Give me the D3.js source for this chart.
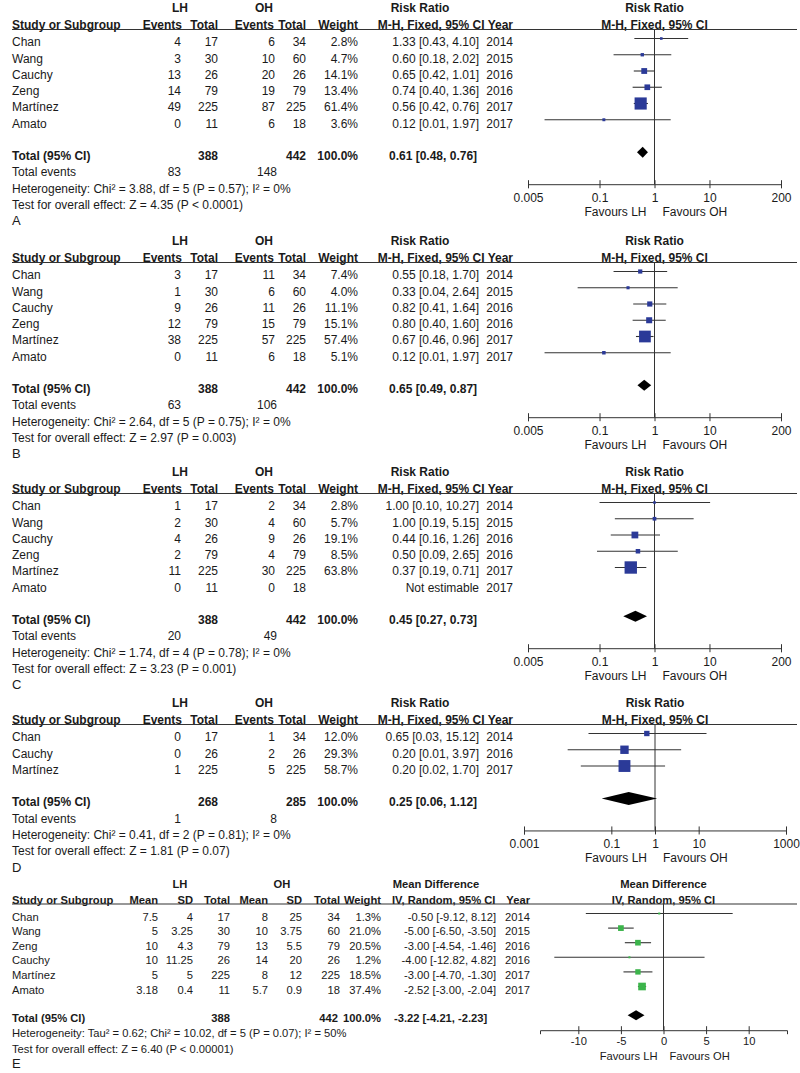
<!DOCTYPE html>
<html><head><meta charset="utf-8">
<script src="https://cdn.jsdelivr.net/npm/d3@7"></script>
<style>
body{margin:0;background:#fff}
svg{display:block}
text{font-family:"Liberation Sans",Arial,sans-serif;fill:#1a1a1a}
</style>
</head><body>
<svg id="c" width="800" height="1073"></svg>
<script>
// ---------- DATA ----------
// Panel A
const studiesA = ["Chan","Wang","Cauchy","Zeng","Martínez","Amato"];
const yearsA   = [2014,2015,2016,2016,2017,2017];
const evLH_A = [4,3,13,14,49,0];
const nLH_A  = [17,30,26,79,225,11];
const evOH_A = [6,10,20,19,87,6];
const nOH_A  = [34,60,26,79,225,18];
const wA     = [2.8,4.7,14.1,13.4,61.4,3.6];
const rrA    = [1.33,0.60,0.65,0.74,0.56,0.12];
const loA    = [0.43,0.18,0.42,0.40,0.42,0.01];
const hiA    = [4.10,2.02,1.01,1.36,0.76,1.97];
const totA   = [0.61,0.48,0.76];
const hetA   = "Heterogeneity: Chi² = 3.88, df = 5 (P = 0.57); I² = 0%";
const testA  = "Test for overall effect: Z = 4.35 (P < 0.0001)";
// Panel B
const evLH_B = [3,1,9,12,38,0];
const evOH_B = [11,6,11,15,57,6];
const wB     = [7.4,4.0,11.1,15.1,57.4,5.1];
const rrB    = [0.55,0.33,0.82,0.80,0.67,0.12];
const loB    = [0.18,0.04,0.41,0.40,0.46,0.01];
const hiB    = [1.70,2.64,1.64,1.60,0.96,1.97];
const totB   = [0.65,0.49,0.87];
const hetB   = "Heterogeneity: Chi² = 2.64, df = 5 (P = 0.75); I² = 0%";
const testB  = "Test for overall effect: Z = 2.97 (P = 0.003)";
// Panel C
const evLH_C = [1,2,4,2,11,0];
const evOH_C = [2,4,9,4,30,0];
const wC     = [2.8,5.7,19.1,8.5,63.8,null];
const rrC    = [1.00,1.00,0.44,0.50,0.37,null];
const loC    = [0.10,0.19,0.16,0.09,0.19,null];
const hiC    = [10.27,5.15,1.26,2.65,0.71,null];
const totC   = [0.45,0.27,0.73];
const hetC   = "Heterogeneity: Chi² = 1.74, df = 4 (P = 0.78); I² = 0%";
const testC  = "Test for overall effect: Z = 3.23 (P = 0.001)";
// Panel D
const studiesD = ["Chan","Cauchy","Martínez"];
const yearsD   = [2014,2016,2017];
const evLH_D = [0,0,1];
const nLH_D  = [17,26,225];
const evOH_D = [1,2,5];
const nOH_D  = [34,26,225];
const wD     = [12.0,29.3,58.7];
const rrD    = [0.65,0.20,0.20];
const loD    = [0.03,0.01,0.02];
const hiD    = [15.12,3.97,1.70];
const totD   = [0.25,0.06,1.12];
const hetD   = "Heterogeneity: Chi² = 0.41, df = 2 (P = 0.81); I² = 0%";
const testD  = "Test for overall effect: Z = 1.81 (P = 0.07)";
// Tick labels
const ticksABC = [0.005,0.1,1,10,200];
const ticksD   = [0.001,0.1,1,10,1000];
const ticksE   = [-10,-5,0,5,10];
// Panel E
const studiesE = ["Chan","Wang","Zeng","Cauchy","Martínez","Amato"];
const yearsE   = [2014,2015,2016,2016,2017,2017];
const meanLH_E = [7.5,5,10,10,5,3.18];
const sdLH_E   = [4,3.25,4.3,11.25,5,0.4];
const nLH_E    = [17,30,79,26,225,11];
const meanOH_E = [8,10,13,14,8,5.7];
const sdOH_E   = [25,3.75,5.5,20,12,0.9];
const nOH_E    = [34,60,79,26,225,18];
const wE       = [1.3,21.0,20.5,1.2,18.5,37.4];
const mdE      = [-0.50,-5.00,-3.00,-4.00,-3.00,-2.52];
const loE      = [-9.12,-6.50,-4.54,-12.82,-4.70,-3.00];
const hiE      = [8.12,-3.50,-1.46,4.82,-1.30,-2.04];
const totE     = [-3.22,-4.21,-2.23];
const hetE     = "Heterogeneity: Tau² = 0.62; Chi² = 10.02, df = 5 (P = 0.07); I² = 50%";
const testE    = "Test for overall effect: Z = 6.40 (P < 0.00001)";

// ---------- DRAWING ----------
const svg = d3.select("#c");
const BLUE = "#2b3a98", GREEN = "#3cb44b", LINE = "#333";
let FS = 12;

function txt(g, x, y, s, anchor, bold, size) {
  const t = g.append("text").attr("x", x).attr("y", y).attr("dy", "0.36em")
    .attr("text-anchor", anchor || "start").style("font-size", (size || FS) + "px").text(s);
  if (bold) t.attr("font-weight", "bold");
  return t;
}
const f2 = v => v.toFixed(2);

function axisAt(g, scale, ticks, y, labelOff) {
  const ax = g.append("g").attr("transform", `translate(0,${y})`)
    .call(d3.axisBottom(scale).tickValues(ticks).tickFormat(d => String(d)).tickSizeOuter(0).tickSize(4));
  ax.select(".domain").attr("stroke", LINE);
  ax.selectAll(".tick line").attr("y1", -4).attr("y2", 4).attr("stroke", LINE);
  ax.selectAll(".tick text").attr("y", labelOff).attr("dy", "0.36em")
    .style("font-family", '"Liberation Sans",Arial,sans-serif').style("font-size", FS + "px").attr("fill", "#1a1a1a");
}

function rrPanel(p) {
  FS = 12;
  const g = svg.append("g");
  const T = p.top, r0 = T + 34, dy = 16.25, n = p.studies.length;
  const rowY = i => r0 + i * dy;
  const x = d3.scaleLog().domain(p.domain).range(p.range);
  // group headers
  txt(g, 180, T, "LH", "middle", true);
  txt(g, 264, T, "OH", "middle", true);
  txt(g, 420, T, "Risk Ratio", "middle", true);
  txt(g, x(1), T, "Risk Ratio", "middle", true);
  const hy = T + 16.5;
  txt(g, 12, hy, "Study or Subgroup", "start", true);
  txt(g, 182, hy, "Events", "end", true);
  txt(g, 218, hy, "Total", "end", true);
  txt(g, 274, hy, "Events", "end", true);
  txt(g, 306, hy, "Total", "end", true);
  txt(g, 358, hy, "Weight", "end", true);
  txt(g, 513, hy, "M-H, Fixed, 95% CI Year", "end", true);
  txt(g, x(1), hy, "M-H, Fixed, 95% CI", "middle", true);
  const ly = T + 21.5;
  g.append("line").attr("x1", 12).attr("x2", 797).attr("y1", ly).attr("y2", ly).attr("stroke", LINE).attr("stroke-width", 1.2);
  // rows
  p.studies.forEach((s, i) => {
    const y = rowY(i);
    txt(g, 12, y, s);
    txt(g, 181, y, p.evLH[i], "end");
    txt(g, 218, y, p.nLH[i], "end");
    txt(g, 275, y, p.evOH[i], "end");
    txt(g, 306, y, p.nOH[i], "end");
    txt(g, 358, y, p.w[i] == null ? "" : p.w[i].toFixed(1) + "%", "end");
    txt(g, 479, y, p.rr[i] == null ? "Not estimable" : `${f2(p.rr[i])} [${f2(p.lo[i])}, ${f2(p.hi[i])}]`, "end");
    txt(g, 513, y, p.years[i], "end");
  });
  const yt = rowY(n + 1);
  txt(g, 12, yt, "Total (95% CI)", "start", true);
  txt(g, 218, yt, d3.sum(p.nLH), "end", true);
  txt(g, 306, yt, d3.sum(p.nOH), "end", true);
  txt(g, 358, yt, "100.0%", "end", true);
  txt(g, 389, yt, `${f2(p.tot[0])} [${f2(p.tot[1])}, ${f2(p.tot[2])}]`, "start", true);
  txt(g, 12, rowY(n + 2), "Total events");
  txt(g, 181, rowY(n + 2), d3.sum(p.evLH), "end");
  txt(g, 277, rowY(n + 2), d3.sum(p.evOH), "end");
  txt(g, 12, rowY(n + 3), p.het);
  txt(g, 12, rowY(n + 4), p.test);
  txt(g, 12, rowY(n + 5), p.label, "start", false, 13);
  // plot
  const axY = r0 + (n + 2.75) * dy;
  g.append("line").attr("x1", x(1)).attr("x2", x(1)).attr("y1", ly).attr("y2", axY).attr("stroke", LINE);
  p.studies.forEach((s, i) => {
    if (p.rr[i] == null) return;
    const y = rowY(i) - 3.5;
    g.append("line").attr("x1", x(p.lo[i])).attr("x2", x(p.hi[i])).attr("y1", y).attr("y2", y).attr("stroke", LINE).attr("stroke-width", 1.1);
    const sz = Math.max(2.5, 1.55 * Math.sqrt(p.w[i]));
    g.append("rect").attr("x", x(p.rr[i]) - sz / 2).attr("y", y - sz / 2).attr("width", sz).attr("height", sz).attr("fill", BLUE);
  });
  const yd = yt - 3.5, h = p.dh;
  g.append("polygon").attr("points", [[x(p.tot[1]), yd], [x(p.tot[0]), yd - h], [x(p.tot[2]), yd], [x(p.tot[0]), yd + h]].map(d => d.join(",")).join(" ")).attr("fill", "#000");
  axisAt(g, x, p.ticks, axY, 13);
  txt(g, x(1) - 8, axY + 27, "Favours LH", "end");
  txt(g, x(1) + 8, axY + 27, "Favours OH", "start");
}

rrPanel({top: 8, label: "A", studies: studiesA, years: yearsA, evLH: evLH_A, nLH: nLH_A, evOH: evOH_A, nOH: nOH_A,
  w: wA, rr: rrA, lo: loA, hi: hiA, tot: totA, het: hetA, test: testA, domain: [0.005, 200], range: [528, 781], ticks: ticksABC, dh: 5.5});
rrPanel({top: 241, label: "B", studies: studiesA, years: yearsA, evLH: evLH_B, nLH: nLH_A, evOH: evOH_B, nOH: nOH_A,
  w: wB, rr: rrB, lo: loB, hi: hiB, tot: totB, het: hetB, test: testB, domain: [0.005, 200], range: [528, 781], ticks: ticksABC, dh: 5.5});
rrPanel({top: 472, label: "C", studies: studiesA, years: yearsA, evLH: evLH_C, nLH: nLH_A, evOH: evOH_C, nOH: nOH_A,
  w: wC, rr: rrC, lo: loC, hi: hiC, tot: totC, het: hetC, test: testC, domain: [0.005, 200], range: [528, 781], ticks: ticksABC, dh: 5.5});
rrPanel({top: 703, label: "D", studies: studiesD, years: yearsD, evLH: evLH_D, nLH: nLH_D, evOH: evOH_D, nOH: nOH_D,
  w: wD, rr: rrD, lo: loD, hi: hiD, tot: totD, het: hetD, test: testD, domain: [0.001, 1000], range: [524, 786], ticks: ticksD, dh: 6.5});

// Panel E
(function () {
  FS = 11.2;
  const g = svg.append("g");
  const T = 884, r0 = T + 32.5, dy = 14.6, n = studiesE.length;
  const rowY = i => r0 + i * dy;
  const x = d3.scaleLinear().domain([-14.5, 14.5]).range([540, 787]);
  txt(g, 180, T, "LH", "middle", true);
  txt(g, 282, T, "OH", "middle", true);
  txt(g, 436, T, "Mean Difference", "middle", true);
  txt(g, x(0), T, "Mean Difference", "middle", true);
  const hy = T + 15.5;
  txt(g, 12, hy, "Study or Subgroup", "start", true);
  txt(g, 158, hy, "Mean", "end", true);
  txt(g, 193, hy, "SD", "end", true);
  txt(g, 230, hy, "Total", "end", true);
  txt(g, 268, hy, "Mean", "end", true);
  txt(g, 302, hy, "SD", "end", true);
  txt(g, 340, hy, "Total", "end", true);
  txt(g, 381, hy, "Weight", "end", true);
  txt(g, 392, hy, "IV, Random, 95% CI", "start", true);
  txt(g, 530, hy, "Year", "end", true);
  txt(g, x(0), hy, "IV, Random, 95% CI", "middle", true);
  const ly = T + 20;
  g.append("line").attr("x1", 12).attr("x2", 797).attr("y1", ly).attr("y2", ly).attr("stroke", LINE).attr("stroke-width", 1.2);
  studiesE.forEach((s, i) => {
    const y = rowY(i);
    txt(g, 12, y, s);
    txt(g, 158, y, meanLH_E[i], "end");
    txt(g, 193, y, sdLH_E[i], "end");
    txt(g, 230, y, nLH_E[i], "end");
    txt(g, 268, y, meanOH_E[i], "end");
    txt(g, 302, y, sdOH_E[i], "end");
    txt(g, 340, y, nOH_E[i], "end");
    txt(g, 381, y, wE[i].toFixed(1) + "%", "end");
    txt(g, 496, y, `${f2(mdE[i])} [${f2(loE[i])}, ${f2(hiE[i])}]`, "end");
    txt(g, 530, y, yearsE[i], "end");
  });
  const yt = rowY(n + 1) - 0.5;
  txt(g, 12, yt, "Total (95% CI)", "start", true);
  txt(g, 230, yt, d3.sum(nLH_E), "end", true);
  txt(g, 338, yt, d3.sum(nOH_E), "end", true);
  txt(g, 381, yt, "100.0%", "end", true);
  txt(g, 394, yt, `${f2(totE[0])} [${f2(totE[1])}, ${f2(totE[2])}]`, "start", true);
  txt(g, 12, yt + 15, hetE);
  txt(g, 12, yt + 30.5, testE);
  txt(g, 12, yt + 45.5, "E", "start", false, 13);
  const axY = yt + 12;
  g.append("line").attr("x1", x(0)).attr("x2", x(0)).attr("y1", ly).attr("y2", axY).attr("stroke", LINE);
  studiesE.forEach((s, i) => {
    const y = rowY(i) - 3;
    g.append("line").attr("x1", x(loE[i])).attr("x2", x(hiE[i])).attr("y1", y).attr("y2", y).attr("stroke", LINE).attr("stroke-width", 1.1);
    const sz = Math.max(2, 1.25 * Math.sqrt(wE[i]));
    g.append("rect").attr("x", x(mdE[i]) - sz / 2).attr("y", y - sz / 2).attr("width", sz).attr("height", sz).attr("fill", GREEN);
  });
  const yd = yt - 3, h = 5;
  g.append("polygon").attr("points", [[x(totE[1]), yd], [x(totE[0]), yd - h], [x(totE[2]), yd], [x(totE[0]), yd + h]].map(d => d.join(",")).join(" ")).attr("fill", "#000");
  axisAt(g, x, ticksE, axY, 11);
  txt(g, x(0) - 6, axY + 26, "Favours LH", "end");
  txt(g, x(0) + 6, axY + 26, "Favours OH", "start");
})();
</script>
</body></html>
